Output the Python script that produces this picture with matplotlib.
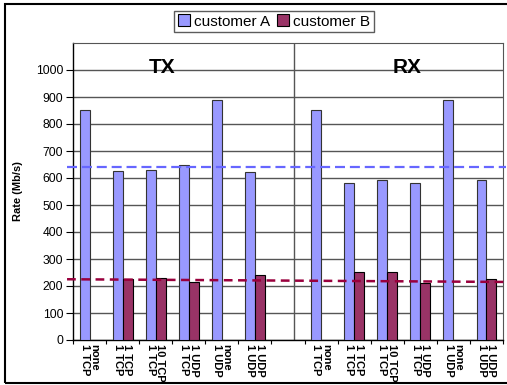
import numpy as np
import matplotlib
matplotlib.use("Agg")
import matplotlib.pyplot as plt
import matplotlib.transforms as mtrans
from matplotlib.patches import Rectangle

plt.rcParams['font.family'] = ['Liberation Sans', 'DejaVu Sans']

# test cases, first line = other traffic, second line = own traffic
cases = ["none\n1 TCP", "1 TCP\n1 TCP", "10 TCP\n1 TCP",
         "1 UDP\n1 TCP", "none\n1 UDP", "1 UDP\n1 UDP"]

tx_a = [850, 627, 631, 648, 890, 621]
tx_b = [0, 225, 231, 214, 0, 242]
rx_a = [850, 580, 594, 580, 890, 594]
rx_b = [0, 252, 252, 211, 0, 225]

# reference levels (dashed)
level_a = [642, 642]
level_b = [225, 215]

col_a = '#9999ff'
col_b = '#993366'

fig = plt.figure(figsize=(5.07, 3.85), dpi=100)
ax = fig.add_axes([73/507, 45/385, 430/507, 297/385])

# TX slots 0..5, empty slot 6, RX slots 7..12
x = np.array(list(range(6)) + list(range(7, 13)), dtype=float)
vals_a = tx_a + rx_a
vals_b = tx_b + rx_b
w = 0.3

ax.bar(x - w, vals_a, width=w, align='edge', color=col_a,
       edgecolor='#333333', linewidth=0.8, zorder=3)
xb = [xi for xi, v in zip(x, vals_b) if v > 0]
vb = [v for v in vals_b if v > 0]
ax.bar(xb, vb, width=w, align='edge', color=col_b,
       edgecolor='black', linewidth=0.8, zorder=3)

ax.set_xlim(-0.5, 12.5)
ax.set_ylim(0, 1100)

# grid
ax.set_yticks(np.arange(0, 1001, 100))
ax.yaxis.grid(True, color='#555555', linewidth=1.0, zorder=0)
ax.set_axisbelow(True)
ax.tick_params(axis='y', length=5, width=0.8, labelsize=8.7, pad=2)

# x labels between boundary ticks
ax.set_xticks(x)
labels = ax.set_xticklabels(cases + cases, rotation=270, ha='center', va='top',
                            multialignment='left', fontsize=8, fontweight='bold',
                            linespacing=0.95)
shift = mtrans.ScaledTranslation(2/100, 0, fig.dpi_scale_trans)
for lab in labels:
    lab.set_transform(lab.get_transform() + shift)
ax.tick_params(axis='x', length=0, pad=3)
ax.set_xticks(np.arange(-0.5, 13, 1), minor=True)
ax.tick_params(axis='x', which='minor', length=3, width=0.8)

for s in ['top', 'right']:
    ax.spines[s].set_color('#555555')
for s in ['left', 'bottom']:
    ax.spines[s].set_color('black')
    ax.spines[s].set_linewidth(1.0)

# TX / RX separator
ax.axvline(6.17, color='#555555', linewidth=1.0, zorder=1)
ax.text(2.2, 990, "TX", ha='center', va='baseline', fontsize=15, fontweight='bold', zorder=4)
ax.text(9.6, 990, "RX", ha='center', va='baseline', fontsize=15, fontweight='bold', zorder=4)

# dashed reference levels
xe = [-0.68, 12.6]
ax.plot(xe, level_a, color='#6666ff', linewidth=1.6, dashes=(4.5, 2.2),
        clip_on=False, zorder=5)
ax.plot(xe, level_b, color='#99003d', linewidth=1.8, dashes=(3.5, 2.2),
        clip_on=False, zorder=5)

ax.set_ylabel("Rate (Mb/s)", fontsize=8, fontweight='bold', labelpad=9)

# legend
ha_ = Rectangle((0, 0), 1, 1, facecolor=col_a, edgecolor='black', linewidth=0.8)
hb_ = Rectangle((0, 0), 1, 1, facecolor=col_b, edgecolor='black', linewidth=0.8)
leg = fig.legend([ha_, hb_], ["customer A", "customer B"], loc='center',
                 bbox_to_anchor=(274/507, 1 - 21.5/385), ncol=2, fontsize=11,
                 frameon=True, fancybox=False, handlelength=0.8, handleheight=0.8,
                 handletextpad=0.3, columnspacing=0.4, borderpad=0.25,
                 borderaxespad=0)
leg.get_frame().set_edgecolor('#333333')
leg.get_frame().set_linewidth(1.0)

# outer frame
fig.patches.append(Rectangle((5/507, 2/385), 1.0, 379/385, transform=fig.transFigure,
                             fill=False, edgecolor='black', linewidth=1.5))

fig.savefig("out.png", dpi=100)
